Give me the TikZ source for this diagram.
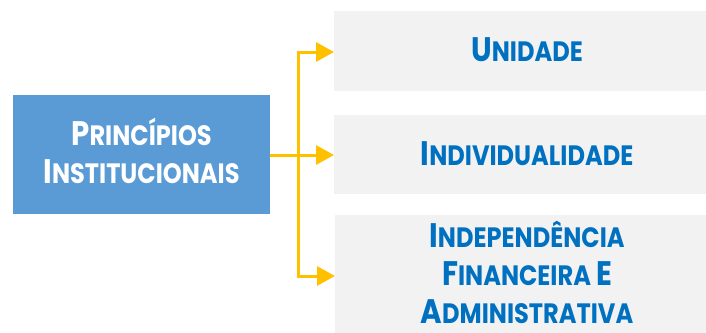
\documentclass[tikz,border=0pt]{standalone}
\usepackage{fontspec}
\setmainfont{Poppins}
\usetikzlibrary{arrows.meta}
\definecolor{boxblue}{HTML}{5B9BD5}
\definecolor{boxgray}{HTML}{F2F2F2}
\definecolor{textblue}{HTML}{0070C0}
\definecolor{linkgold}{HTML}{FFC000}
% hand-made small caps: a large initial followed by smaller capitals
\newcommand{\capsword}[2]{{\fontsize{34}{38}\selectfont #1}{\fontsize{28}{38}\selectfont #2}}
\newcommand{\squeeze}[1]{\scalebox{0.86}[1]{#1}}
\tikzset{
  label/.style={font=\bfseries, align=center, inner sep=0pt, anchor=base},
  rootlabel/.style={label, text=white},
  itemlabel/.style={label, text=textblue},
  link/.style={draw=linkgold, line width=3pt},
  linkarrow/.style={link, -{Triangle[length=18pt,width=19pt]}},
}
\begin{document}
\begin{tikzpicture}[x=1pt,y=-1pt]
  \useasboundingbox (0,0) rectangle (706,332);
  \begin{scope}
    \clip (0,0) rectangle (706,332);
    % boxes
    \fill[boxblue] (13,95) rectangle (270,214);
    \fill[boxgray] (334,11) rectangle (706,91);
    \fill[boxgray] (334,115) rectangle (706,194);
    \fill[boxgray] (335,215) rectangle (706,340);
  \end{scope}
  % anchors of the boxes
  \coordinate (root) at (270,155);
  \coordinate (split) at (298,155);
  \coordinate (top) at (298,52);
  \coordinate (bottom) at (298,276);
  \coordinate (a1) at (334,52);
  \coordinate (a2) at (334,155);
  \coordinate (a3) at (335,276);
  % labels
  \node[rootlabel] (l1) at (141.5,145) {\squeeze{\capsword{P}{RINCÍPIOS}}};
  \node[rootlabel] (l2) at (141.5,183) {\squeeze{\capsword{I}{NSTITUCIONAIS}}};
  \node[itemlabel] (u) at (527,61) {\squeeze{\capsword{U}{NIDADE}}};
  \node[itemlabel] (i) at (527,165) {\squeeze{\capsword{I}{NDIVIDUALIDADE}}};
  \node[itemlabel] (d1) at (527,247) {\squeeze{\capsword{I}{NDEPENDÊNCIA}}};
  \node[itemlabel] (d2) at (527,285) {\squeeze{\capsword{F}{INANCEIRA\ }\capsword{E}{}}};
  \node[itemlabel] (d3) at (527,323) {\squeeze{\capsword{A}{DMINISTRATIVA}}};
  % connectors
  \draw[link] (root) -- (split);
  \draw[link, line cap=rect] (top) -- (bottom);
  \draw[linkarrow] (top) -- (a1);
  \draw[linkarrow] (split) -- (a2);
  \draw[linkarrow] (bottom) -- (a3);
\end{tikzpicture}
\end{document}
